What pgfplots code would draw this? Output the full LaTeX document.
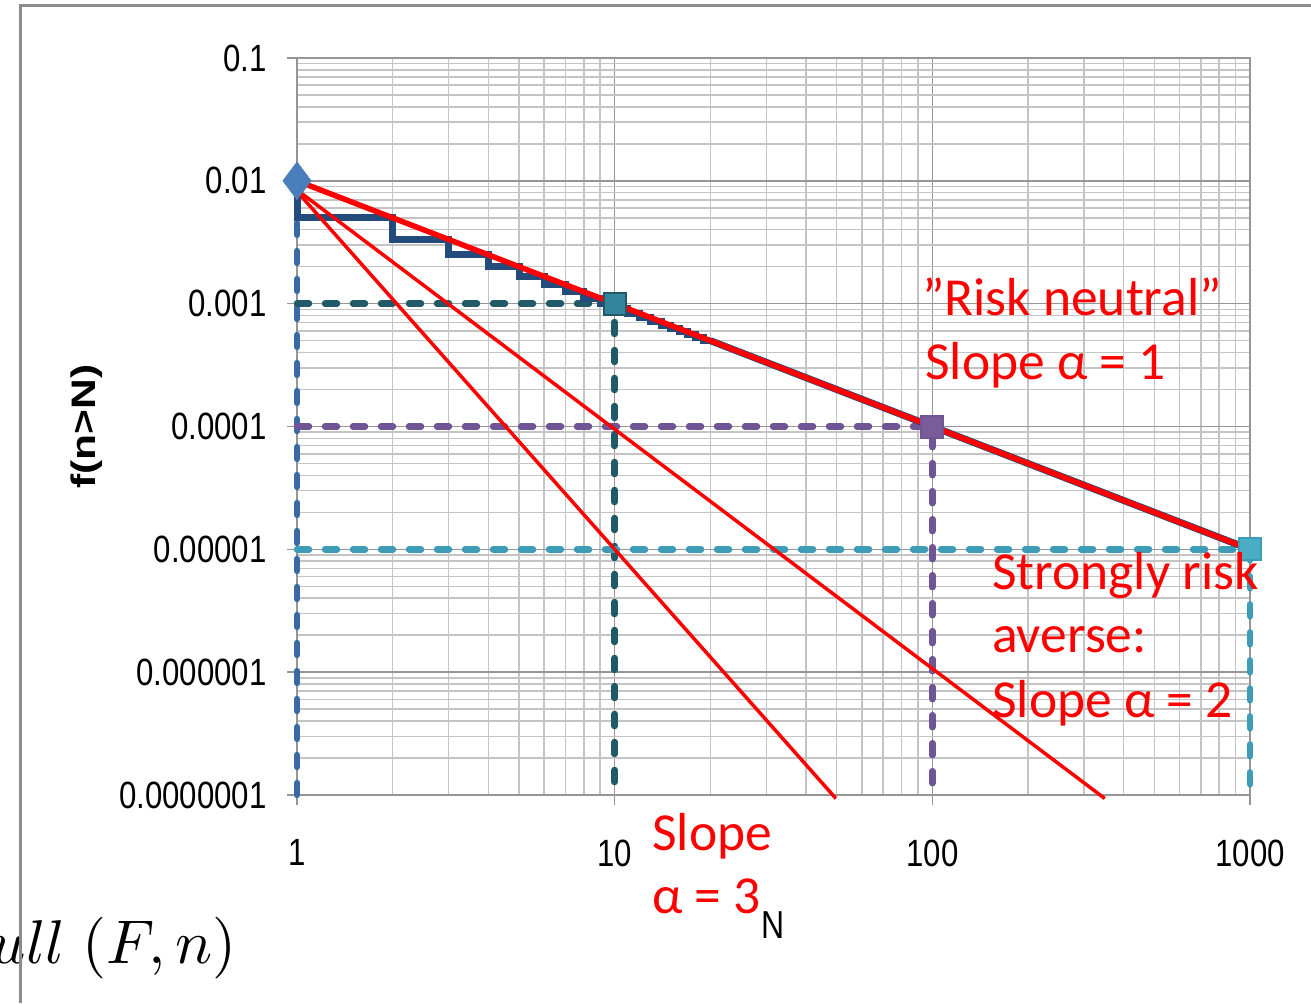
\documentclass[border=0pt]{standalone}
\usepackage{fontspec}
\setmainfont{Liberation Sans}
\newfontfamily\narrowfont[FakeStretch=0.82]{Liberation Sans}
\newfontfamily\widefont[FakeStretch=1.25]{Liberation Sans}
\newfontfamily\calfont{Carlito}
\usepackage{pgfplots}
\pgfplotsset{compat=1.18}
\definecolor{gridminor}{HTML}{C4C4C4}
\definecolor{gridmajor}{HTML}{969696}
\definecolor{stepblue}{HTML}{234B7C}
\definecolor{dashblue}{HTML}{3A6AA3}
\definecolor{diamondblue}{HTML}{4A7EBB}
\definecolor{darkteal}{HTML}{215968}
\definecolor{tealmark}{HTML}{31859C}
\definecolor{purp}{HTML}{6F5596}
\definecolor{purpmark}{HTML}{7A5C9A}
\definecolor{lteal}{HTML}{3E9DB6}
\definecolor{ltealmark}{HTML}{4BACC6}
\definecolor{framegray}{HTML}{8C8C8C}
\begin{document}
\begin{tikzpicture}[x=1bp,y=1bp]
\useasboundingbox (0,0) rectangle (1311,1003);
\fill[white] (0,0) rectangle (1311,1003);
\begin{axis}[
  at={(297bp,208bp)}, anchor=south west,
  width=953bp, height=737bp, scale only axis,
  xmode=log, ymode=log,
  xmin=1, xmax=1000, ymin=1e-7, ymax=0.1,
  xtick={1,10,100,1000}, xticklabels={1,10,100,1000},
  ytick={1e-7,1e-6,1e-5,1e-4,1e-3,1e-2,1e-1},
  yticklabels={0.0000001,0.000001,0.00001,0.0001,0.001,0.01,0.1},
  grid=both,
  major grid style={gridmajor, line width=1.5bp},
  minor grid style={gridminor, line width=1.5bp},
  axis line style={gridmajor, line width=1.8bp},
  tick align=outside, major tick length=10bp, minor tick length=0pt,
  tick style={gridmajor, line width=1.5bp},
  xtick pos=bottom, ytick pos=left,
  ticklabel style={font=\narrowfont\fontsize{38bp}{44bp}\selectfont, text=black},
  yticklabel style={anchor=east, xshift=-17bp},
  xticklabel style={anchor=north, yshift=-31bp},
  xlabel={N}, ylabel={f(n>N)},
  xlabel style={at={(axis description cs:0.5,-0.1764)}, anchor=center, font=\narrowfont\fontsize{39bp}{44bp}\selectfont},
  ylabel style={at={(axis description cs:-0.2204,0.5)}, anchor=center, rotate=0, font=\widefont\bfseries\fontsize{34bp}{40bp}\selectfont},
  clip=false,
  dashst/.style={line width=6.5bp, line cap=round, dash pattern=on 12bp off 16bp},
]
% dashed guide lines
\addplot[dashblue, dashst] coordinates {(1,1e-7)(1,0.005)};
\addplot[darkteal, dashst] coordinates {(1,0.001)(10,0.001)(10,1e-7)};
\addplot[purp, dashst] coordinates {(1,0.0001)(100,0.0001)(100,1e-7)};
\addplot[lteal, dashst] coordinates {(1,0.00001)(1000,0.00001)(1000,1e-7)};
% step function f(n>N)
\addplot[stepblue, line width=7bp, const plot mark right] coordinates {
 (1,0.01)(2,0.005)(3,0.003333)(4,0.0025)(5,0.002)(6,0.001667)(7,0.001429)
 (8,0.00125)(9,0.001111)(10,0.001)(11,0.000909)(12,0.000833)(13,0.000769)
 (14,0.000714)(15,0.000667)(16,0.000625)(17,0.000588)(18,0.000556)
 (19,0.000526)(20,0.0005)};
\addplot[stepblue, line width=7bp] coordinates {(20,0.0005)(1000,0.00001)};
% markers
\addplot[only marks, mark=diamond*, mark size=19bp, mark options={fill=diamondblue, draw=diamondblue}] coordinates {(1,0.01)};
\addplot[only marks, mark=square*, mark size=11bp, mark options={fill=tealmark, draw=darkteal, line width=2bp}] coordinates {(10,0.001)};
\addplot[only marks, mark=square*, mark size=11bp, mark options={fill=purpmark, draw=purp, line width=2bp}] coordinates {(100,0.0001)};
\addplot[only marks, mark=square*, mark size=11bp, mark options={fill=ltealmark, draw=lteal, line width=2bp}] coordinates {(1000,0.00001)};
% red reference lines
\addplot[red, line width=5.5bp] coordinates {(1,0.01)(1000,0.00001)};
\addplot[red, line width=3.5bp] coordinates {(0.971,0.00893)(349,9.37e-8)};
\addplot[red, line width=3.5bp] coordinates {(0.971,0.00893)(49.7,9.37e-8)};
\end{axis}
% annotations
\begin{scope}[every node/.style={inner sep=0pt, text=red, font=\calfont\fontsize{53.5bp}{60bp}\selectfont}]
\node[anchor=base west] at (922,687) {”Risk neutral”};
\node[anchor=base west] at (925,623) {Slope α = 1};
\node[anchor=base west] at (992,413) {Strongly risk};
\node[anchor=base west] at (992,350) {averse:};
\node[anchor=base west] at (992,286) {Slope α = 2};
\node[anchor=base west] at (652,153) {Slope};
\node[anchor=base west] at (652,90) {α = 3};
\end{scope}
\begin{scope}
\clip (0,0) rectangle (1311,1003);
\node[anchor=base east, inner sep=0pt] at (237,40) {\scalebox{6.2}{$ull\;(F,n)$}};
\end{scope}
\draw[framegray, line width=3bp] (20,0) -- (20,997.5) -- (1311,997.5);
\end{tikzpicture}
\end{document}
